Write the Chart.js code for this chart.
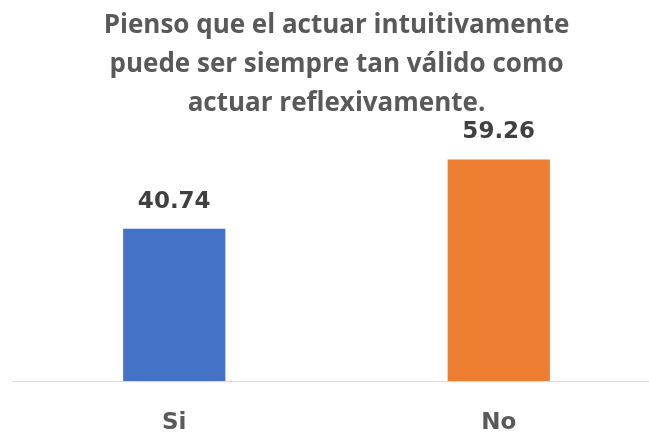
<!DOCTYPE html>
<html>
<head>
<meta charset="utf-8">
<script src="https://cdn.jsdelivr.net/npm/chart.js@4"></script>
<style>
  html, body { margin: 0; padding: 0; background: #fff; overflow: hidden; }
</style>
</head>
<body>
<canvas id="grafico" width="661" height="436"></canvas>
<script>
const categorias = ['Si', 'No'];
const valores = [40.74, 59.26];
const colores = ['#4472C4', '#ED7D31'];
const tituloLineas = ['Pienso que el actuar intuitivamente', 'puede ser siempre tan válido como', 'actuar reflexivamente.'];

// etiquetas de valor encima de cada barra
const etiquetas = {
    id: 'etiquetas',
    afterDatasetsDraw(chart) {
        const ctx = chart.ctx;
        const meta = chart.getDatasetMeta(0);
        ctx.save();
        ctx.font = 'bold 23px "DejaVu Sans"';
        ctx.fillStyle = '#404040';
        ctx.textAlign = 'center';
        ctx.textBaseline = 'alphabetic';
        meta.data.forEach((bar, i) => {
            ctx.fillText(valores[i].toFixed(2), bar.x, bar.y - 21);
        });
        ctx.restore();
    }
};

let ctx = document.getElementById('grafico').getContext('2d');
let grafico = new Chart(ctx, {
    type: 'bar',
    data: {
        labels: categorias,
        datasets: [{
            data: valores,
            backgroundColor: colores,
            barPercentage: 0.63,
            categoryPercentage: 0.5
        }]
    },
    plugins: [etiquetas],
    options: {
        responsive: false,
        animation: false,
        layout: {
            padding: { left: 12, right: 0, top: 3, bottom: 2 }
        },
        plugins: {
            legend: { display: false },
            tooltip: { enabled: false },
            title: {
                display: true,
                text: tituloLineas,
                color: '#595959',
                font: { family: 'Open Sans', size: 26, weight: 'bold', lineHeight: '39px' },
                padding: { top: 3, bottom: 0 }
            }
        },
        scales: {
            x: {
                grid: { display: false },
                border: { display: true, color: '#d9d9d9', width: 1 },
                ticks: {
                    color: '#595959',
                    font: { family: 'DejaVu Sans', size: 23, weight: 'bold' },
                    padding: 20
                },
                afterFit(scale) {
                    scale.height = 53;
                }
            },
            y: {
                display: false,
                min: 0,
                max: 69
            }
        }
    }
});
</script>
</body>
</html>
